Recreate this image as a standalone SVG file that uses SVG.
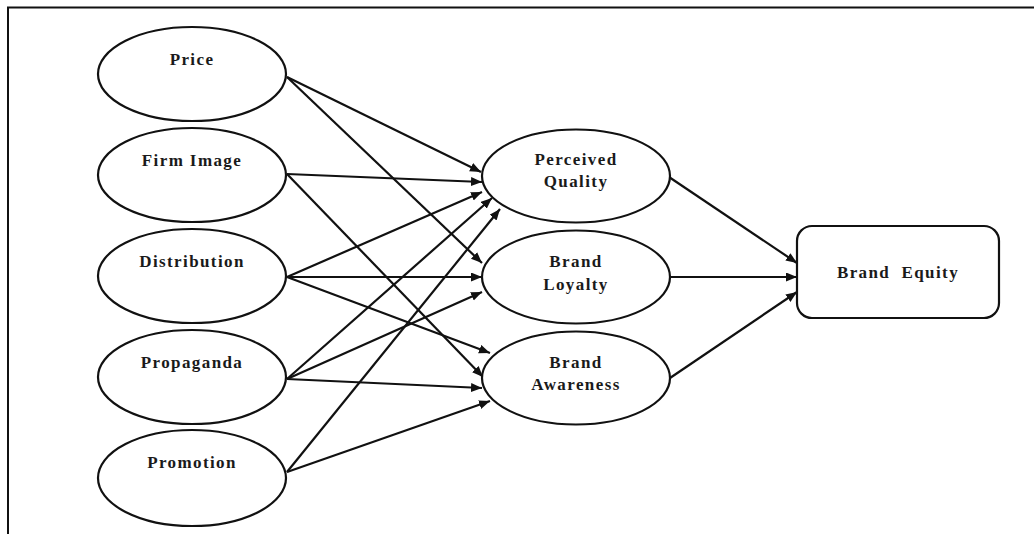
<svg xmlns="http://www.w3.org/2000/svg" width="1034" height="534" viewBox="0 0 1034 534">
  <style>
    .node { fill: #ffffff; stroke: #111111; stroke-width: 2.2; }
    .label { font-family: "Liberation Serif", "Times New Roman", serif; font-weight: bold; font-size: 17px; letter-spacing: 1.4px; fill: #1a1a1a; text-anchor: middle; }
    .edge { stroke: #111111; stroke-width: 2.2; fill: none; marker-end: url(#arrow); }
    .frame { stroke: #111111; stroke-width: 2; fill: none; }
  </style>
  <defs>
    <marker id="arrow" markerUnits="userSpaceOnUse" markerWidth="12" markerHeight="10" refX="11" refY="4.5" orient="auto">
      <path d="M0,0 L11,4.5 L0,9 z" fill="#111111"/>
    </marker>
  </defs>

  <rect width="1034" height="534" fill="#ffffff"/>
  <!-- page frame (top and left rules) -->
  <path class="frame" d="M8,534 V7.5 H1034"/>

  <!-- connectors -->
  <g id="connectors">
    <!-- Price -->
    <line class="edge" x1="287" y1="77" x2="481" y2="172"/>
    <line class="edge" x1="287" y1="77" x2="482" y2="263"/>
    <!-- Firm Image -->
    <line class="edge" x1="287" y1="174" x2="482" y2="182"/>
    <line class="edge" x1="287" y1="174" x2="483" y2="377"/>
    <!-- Distribution -->
    <line class="edge" x1="287" y1="277" x2="482" y2="192"/>
    <line class="edge" x1="287" y1="277" x2="482" y2="277"/>
    <line class="edge" x1="287" y1="277" x2="490" y2="353"/>
    <!-- Propaganda -->
    <line class="edge" x1="287" y1="379" x2="492" y2="198"/>
    <line class="edge" x1="287" y1="379" x2="482" y2="292"/>
    <line class="edge" x1="287" y1="379" x2="482" y2="388"/>
    <!-- Promotion -->
    <line class="edge" x1="287" y1="472" x2="500" y2="209"/>
    <line class="edge" x1="287" y1="472" x2="490" y2="401"/>
    <!-- to Brand Equity -->
    <line class="edge" x1="669" y1="177" x2="797" y2="263"/>
    <line class="edge" x1="670" y1="277" x2="797" y2="277"/>
    <line class="edge" x1="670" y1="378" x2="797" y2="292"/>
  </g>

  <!-- antecedents -->
  <g id="price">
    <ellipse class="node" cx="192" cy="74" rx="94" ry="47"/>
    <text class="label" x="192" y="65">Price</text>
  </g>
  <g id="firm-image">
    <ellipse class="node" cx="192" cy="175" rx="94" ry="47"/>
    <text class="label" x="192" y="166">Firm Image</text>
  </g>
  <g id="distribution">
    <ellipse class="node" cx="192" cy="276" rx="94" ry="47"/>
    <text class="label" x="192" y="267">Distribution</text>
  </g>
  <g id="propaganda">
    <ellipse class="node" cx="192" cy="377" rx="94" ry="47"/>
    <text class="label" x="192" y="368">Propaganda</text>
  </g>
  <g id="promotion">
    <ellipse class="node" cx="192" cy="478" rx="94" ry="48"/>
    <text class="label" x="192" y="468">Promotion</text>
  </g>

  <!-- brand equity dimensions -->
  <g id="perceived-quality">
    <ellipse class="node" cx="576" cy="176" rx="94" ry="46.5"/>
    <text class="label" x="576" y="165">Perceived</text>
    <text class="label" x="576" y="187">Quality</text>
  </g>
  <g id="brand-loyalty">
    <ellipse class="node" cx="576" cy="277" rx="94" ry="46.5"/>
    <text class="label" x="576" y="267">Brand</text>
    <text class="label" x="576" y="290">Loyalty</text>
  </g>
  <g id="brand-awareness">
    <ellipse class="node" cx="576" cy="378" rx="94" ry="46.5"/>
    <text class="label" x="576" y="368">Brand</text>
    <text class="label" x="576" y="390">Awareness</text>
  </g>

  <!-- outcome -->
  <g id="brand-equity">
    <rect class="node" x="797" y="226" width="202" height="92" rx="15" ry="15"/>
    <text class="label" x="898" y="278" xml:space="preserve">Brand  Equity</text>
  </g>
</svg>
